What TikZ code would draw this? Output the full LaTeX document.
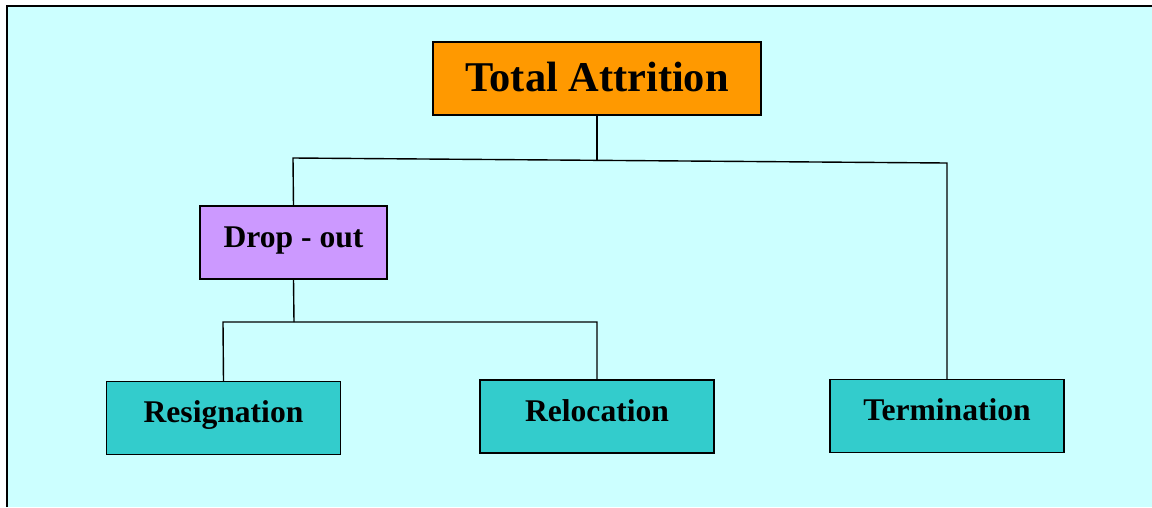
\documentclass[tikz,border=0pt]{standalone}
\usepackage{fontspec}
\setmainfont{Liberation Serif}
\usepackage{tikz}
\usetikzlibrary{positioning}
\definecolor{paleaqua}{HTML}{CCFFFF}
\definecolor{topboxcol}{HTML}{FF9900}
\definecolor{dropcol}{HTML}{CC99FF}
\definecolor{leafcol}{HTML}{33CCCC}
\begin{document}
\begin{tikzpicture}[x=1pt,y=-1pt]
                \tikzstyle{every node}+=[inner sep=0pt, outer sep=0pt]
                \tikzstyle{chartbox}=[draw=black, line width=1.6pt, font=\bfseries\fontsize{31.6}{38}\selectfont,
                    minimum width=234pt, minimum height=73pt, text height=21pt, text depth=12pt]
                \tikzstyle{tie}=[draw=black, line width=1.4pt]
                \useasboundingbox (0,0) rectangle (1152,507);
                \fill [white] (0,0) rectangle (1152,507);
                \fill [paleaqua] (7,6) rectangle (1152,507);
                \draw [black, line width=2.4pt] (7,507) -- (7,6) -- (1152,6);
                \node [chartbox, fill=topboxcol, minimum width=328pt, text height=29pt, text depth=4pt,
                    font=\bfseries\fontsize{42.4}{50}\selectfont] (total) at (597,78.5) {Total Attrition};
                \node [chartbox, fill=dropcol, minimum width=187pt] (dropout) at (293.5,242.5) {Drop - out};
                \node [chartbox, fill=leafcol] (resign) at (223.5,418) {Resignation};
                \node [chartbox, fill=leafcol] (reloc) at (597,416.5) {Relocation};
                \node [chartbox, fill=leafcol] (termin) at (947,416) {Termination};
                \coordinate (topjoin) at (597,160.5);
                \coordinate (topleft) at (293,158);
                \coordinate (topright) at (947,163);
                \coordinate (lowjoin) at (294,322);
                \coordinate (lowleft) at (223,322);
                \coordinate (lowright) at (597,322);
                \draw [tie] (total.south) -- (topjoin);
                \draw [tie] (dropout.north) -- (topleft) -- (topright) -- (termin.north);
                \draw [tie] (dropout.south) -- (lowjoin);
                \draw [tie] (resign.north) -- (lowleft) -- (lowright) -- (reloc.north);
            \end{tikzpicture}
\end{document}
